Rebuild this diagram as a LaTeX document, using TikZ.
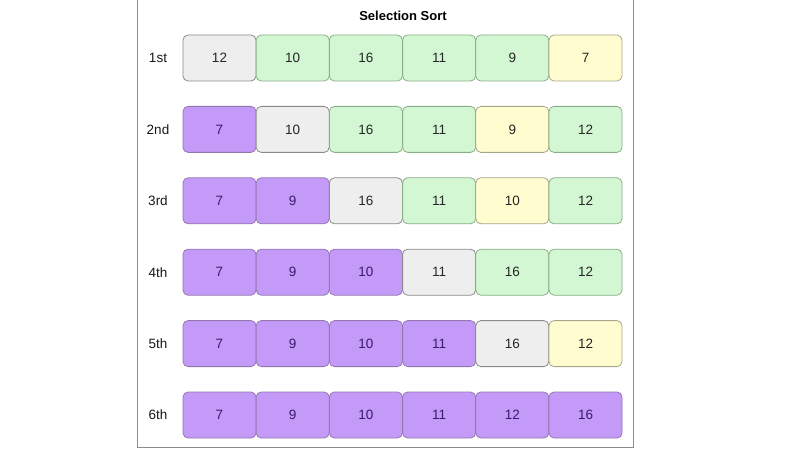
\documentclass[tikz,border=0pt]{standalone}
\usepackage{fontspec}
\setmainfont{Liberation Sans}
\begin{document}
\begin{tikzpicture}[x=1pt,y=-1pt,
  cell/.style={draw, rounded corners=5pt, minimum width=73pt, minimum height=46pt, inner sep=0pt, line width=0.8pt, font=\fontsize{13.5}{15}\selectfont},
  gr/.style={cell, fill=grayfill, draw=grayline, text=black!85},
  gn/.style={cell, fill=greenfill, draw=greenline, text=black!85},
  yl/.style={cell, fill=yellowfill, draw=yellowline, text=black!85},
  pu/.style={cell, fill=purplefill, draw=purpleline, text=purpletext},
  rowlab/.style={font=\fontsize{13.5}{15}\selectfont, text=black!90}]
\definecolor{grayfill}{HTML}{EEEEEF}
\definecolor{grayline}{HTML}{8A8A8A}
\definecolor{greenfill}{HTML}{D2F7D2}
\definecolor{greenline}{HTML}{8AAF88}
\definecolor{yellowfill}{HTML}{FFFDCF}
\definecolor{yellowline}{HTML}{A8A68A}
\definecolor{purplefill}{HTML}{C49AF8}
\definecolor{purpleline}{HTML}{9577B0}
\definecolor{purpletext}{HTML}{3A1A6E}
\useasboundingbox (0,0) rectangle (800,449);
\clip (0,0) rectangle (800,449);
\fill[white] (0,0) rectangle (800,449);
\draw[draw=black!45, line width=0.8pt] (137,-5) rectangle (633,447.5);
\node[font=\bfseries\fontsize{13}{15}\selectfont] (title) at (403,16) {Selection Sort};
\foreach \lab [count=\j from 0] in {1st,2nd,3rd,4th,5th,6th}{
  \node[rowlab] (L\j) at (158, 58+71.4*\j) {\lab};
}
\foreach \r/\cells in {
 0/{gr/12,gn/10,gn/16,gn/11,gn/9,yl/7},
 1/{pu/7,gr/10,gn/16,gn/11,yl/9,gn/12},
 2/{pu/7,pu/9,gr/16,gn/11,yl/10,gn/12},
 3/{pu/7,pu/9,pu/10,gr/11,gn/16,gn/12},
 4/{pu/7,pu/9,pu/10,pu/11,gr/16,yl/12},
 5/{pu/7,pu/9,pu/10,pu/11,pu/12,pu/16}}{
  \foreach \s/\v [count=\i from 0] in \cells {
    \node[\s] (c\r-\i) at (219.5+73.2*\i, 58+71.4*\r) {\v};
  }
}
\end{tikzpicture}
\end{document}
